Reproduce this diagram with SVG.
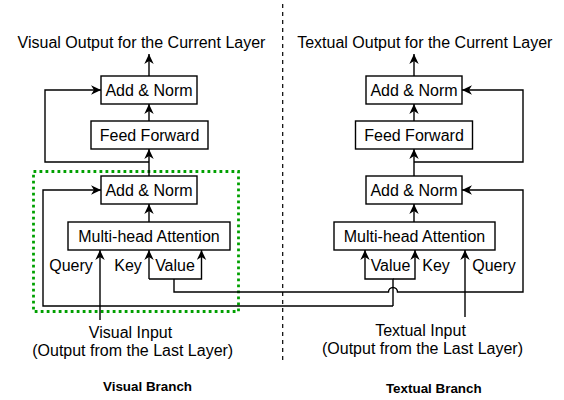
<svg xmlns="http://www.w3.org/2000/svg" width="564" height="400" viewBox="0 0 564 400">
  <style>
    .box { fill: #ffffff; stroke: #000000; stroke-width: 1.4; }
    .lbl { font-family: "Liberation Sans", Arial, sans-serif; font-size: 16px; fill: #000000; text-anchor: middle; }
    .ttl { font-family: "Liberation Sans", Arial, sans-serif; font-size: 13.4px; font-weight: bold; fill: #000000; text-anchor: middle; }
    .wire { fill: none; stroke: #000000; stroke-width: 1.4; }
    .arrow { marker-end: url(#head); }
  </style>
  <defs>
    <marker id="head" viewBox="0 0 10 10" refX="10" refY="5" markerWidth="10" markerHeight="10" markerUnits="userSpaceOnUse" orient="auto">
      <path d="M10,5 L0,0.3 L3,5 L0,9.7 Z" fill="#000000"/>
    </marker>
  </defs>

  <!-- branch divider -->
  <line x1="282.7" y1="4" x2="282.7" y2="361" stroke="#000000" stroke-width="1.2" stroke-dasharray="4 4"/>

  <!-- cross-attention block highlight (visual side) -->
  <rect x="33.5" y="171.5" width="205" height="140" fill="none" stroke="#00a000" stroke-width="2.8" stroke-dasharray="2.8 3.2"/>

  <g id="connectors">
    <!-- visual branch -->
    <path class="wire arrow" d="M149,76 L149,54"/>
    <path class="wire arrow" d="M149,121 L149,104"/>
    <path class="wire arrow" d="M149,176 L149,149"/>
    <path class="wire arrow" d="M149,162 L45,162 L45,90 L101,90"/>
    <path class="wire arrow" d="M149,222 L149,204"/>
    <path class="wire arrow" d="M100,320 L100,250"/>
    <path class="wire arrow" d="M149,279 L149,250"/>
    <path class="wire arrow" d="M149,279 L201.5,279 L201.5,250"/>
    <!-- visual K/V source: textual residual, runs across to the textual Add & Norm -->
    <path class="wire arrow" d="M174,279 L174,292 L388.5,292 A4.5,4.5 0 0 1 397.5,292 L523,292 L523,190 L462,190"/>
    <!-- visual residual feeds textual K/V -->
    <path class="wire arrow" d="M393,306 L43,306 L43,190 L101,190"/>

    <!-- textual branch -->
    <path class="wire arrow" d="M414,76 L414,54"/>
    <path class="wire arrow" d="M414,121 L414,104"/>
    <path class="wire arrow" d="M414,176 L414,149"/>
    <path class="wire arrow" d="M414,162 L523,162 L523,90 L462,90"/>
    <path class="wire arrow" d="M414,222 L414,204"/>
    <path class="wire arrow" d="M465,317 L465,250"/>
    <path class="wire arrow" d="M393,306 L393,279 L365,279 L365,250"/>
    <path class="wire arrow" d="M393,279 L415,279 L415,250"/>
  </g>

  <!-- visual branch nodes -->
  <g id="v-addnorm-top">
    <rect class="box" x="101" y="76" width="96" height="28"/>
    <text class="lbl" x="149" y="95.5">Add &amp; Norm</text>
  </g>
  <g id="v-feedforward">
    <rect class="box" x="91" y="121" width="117" height="28"/>
    <text class="lbl" x="149.5" y="140.5">Feed Forward</text>
  </g>
  <g id="v-addnorm-low">
    <rect class="box" x="101" y="176" width="96" height="28"/>
    <text class="lbl" x="149" y="195.5">Add &amp; Norm</text>
  </g>
  <g id="v-attention">
    <rect class="box" x="68" y="222" width="162" height="28"/>
    <text class="lbl" x="149" y="241.5">Multi-head Attention</text>
  </g>

  <!-- textual branch nodes -->
  <g id="t-addnorm-top">
    <rect class="box" x="366" y="76" width="96" height="28"/>
    <text class="lbl" x="414" y="95.5">Add &amp; Norm</text>
  </g>
  <g id="t-feedforward">
    <rect class="box" x="355.5" y="121" width="117" height="28"/>
    <text class="lbl" x="414" y="140.5">Feed Forward</text>
  </g>
  <g id="t-addnorm-low">
    <rect class="box" x="366" y="176" width="96" height="28"/>
    <text class="lbl" x="414" y="195.5">Add &amp; Norm</text>
  </g>
  <g id="t-attention">
    <rect class="box" x="334" y="222" width="161" height="28"/>
    <text class="lbl" x="414.5" y="241.5">Multi-head Attention</text>
  </g>

  <!-- port labels -->
  <text class="lbl" x="71" y="271">Query</text>
  <text class="lbl" x="128" y="271">Key</text>
  <text class="lbl" x="175" y="271">Value</text>
  <text class="lbl" x="390.5" y="271">Value</text>
  <text class="lbl" x="436" y="271">Key</text>
  <text class="lbl" x="494" y="271">Query</text>

  <!-- outputs and inputs -->
  <text class="lbl" x="141.5" y="48">Visual Output for the Current Layer</text>
  <text class="lbl" x="424.8" y="48">Textual Output for the Current Layer</text>
  <text class="lbl" x="130.5" y="338">Visual Input</text>
  <text class="lbl" x="132.7" y="356">(Output from the Last Layer)</text>
  <text class="lbl" x="420.5" y="336">Textual Input</text>
  <text class="lbl" x="422.5" y="354">(Output from the Last Layer)</text>

  <!-- branch titles -->
  <text class="ttl" x="147.5" y="390.5">Visual Branch</text>
  <text class="ttl" x="433.8" y="393">Textual Branch</text>
</svg>
